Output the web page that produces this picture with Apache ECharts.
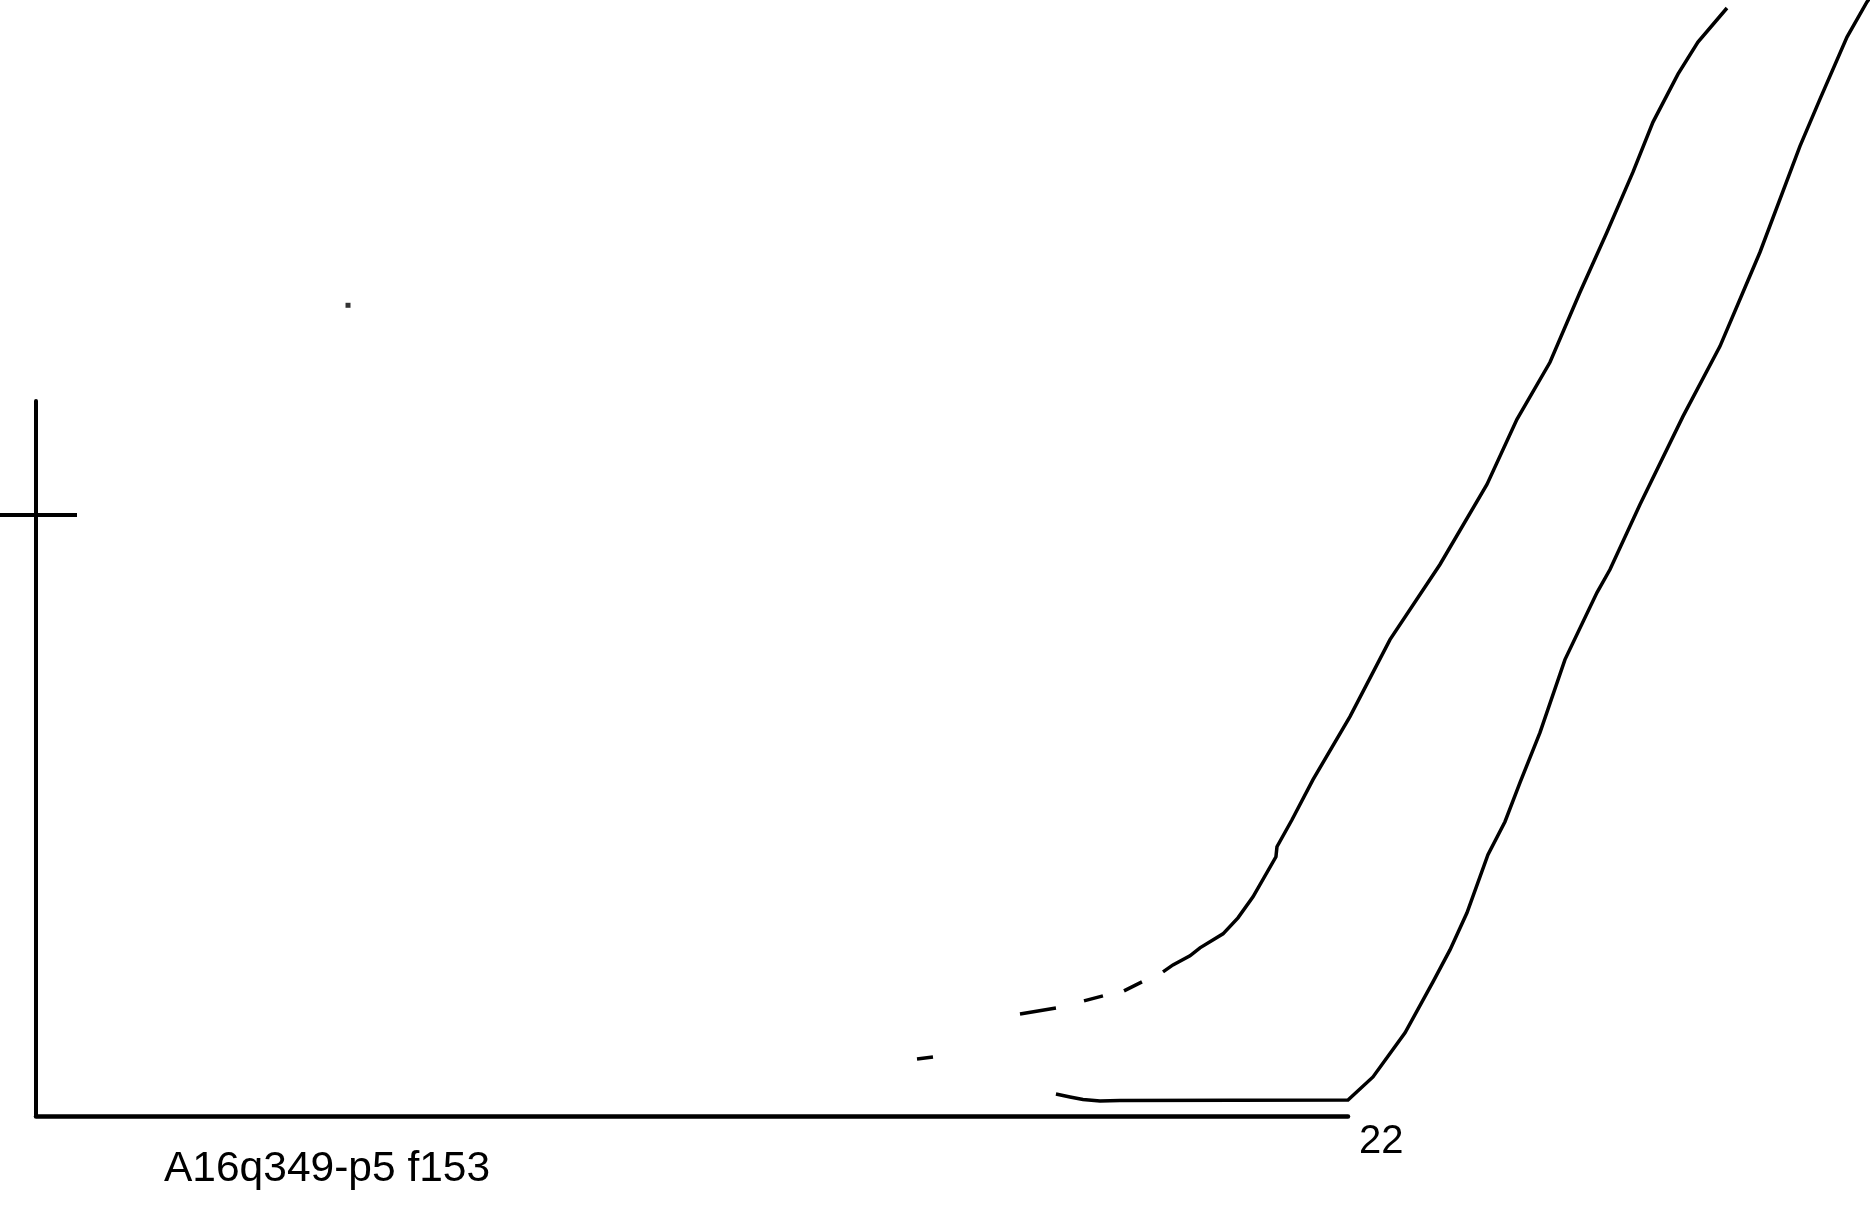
<!DOCTYPE html>
<html>
<head>
<meta charset="utf-8">
<script src="https://cdn.jsdelivr.net/npm/echarts@6/dist/echarts.min.js"></script>
<style>
html,body{margin:0;padding:0;background:#fff;}
#chart{width:1870px;height:1224px;}
</style>
</head>
<body>
<div id="chart"></div>
<script>
// ---- data ----
const chartLabel = 'A16q349-p5 f153';
const xTickLabels = [22];
const yTickValues = [1];

// curve 1 (segments separated by null)
const curve1X = [14.773, 15.041, null, 16.500, 17.103, null, 17.573, 17.891, null, 18.244, 18.545, null,
  18.898, 19.065, 19.350, 19.518, 19.904, 20.155, 20.407, 20.792, 20.809, 21.061, 21.413, 22.033,
  22.704, 23.542, 24.330, 24.833, 25.387, 25.890, 26.342, 26.778, 27.114, 27.533, 27.868, 28.355];
const curve1Y = [0.0950, 0.0983, null, 0.1699, 0.1799, null, 0.1916, 0.1999, null, 0.2082, 0.2232, null,
  0.2399, 0.2515, 0.2665, 0.2799, 0.3032, 0.3298, 0.3648, 0.4314, 0.4481, 0.4931, 0.5597, 0.6647,
  0.7929, 0.9179, 1.0511, 1.1594, 1.2544, 1.3710, 1.4709, 1.5709, 1.6542, 1.7341, 1.7874, 1.8441];

// curve 2
const curve2X = [17.103, 17.338, 17.556, 17.841, 18.176, 22.000, 22.419, 22.956, 23.425, 23.710, 23.995,
  24.347, 24.632, 24.884, 25.219, 25.638, 26.175, 26.393, 26.896, 27.617, 28.237, 28.623, 28.908,
  29.579, 29.914, 30.367, 30.702, 30.836];
const curve2Y = [0.0366, 0.0317, 0.0275, 0.0250, 0.0258, 0.0267, 0.0650, 0.1383, 0.2232, 0.2765, 0.3382,
  0.4348, 0.4898, 0.5547, 0.6380, 0.7596, 0.8712, 0.9095, 1.0178, 1.1644, 1.2810, 1.3710, 1.4376,
  1.6142, 1.6925, 1.7958, 1.8541, 1.8724];

// isolated point
const dotX = [5.232];
const dotY = [1.3493];

// visible axis ranges
const xMin = 0, xMax = 22;
const yMin = 0, yMax = 1.19;

// ---- layout ----
const W = 1870, H = 1224;
const gLeft = 36, gRight = 522, gTop = 401, gBottom = 108;
const plotW = W - gLeft - gRight, plotH = H - gTop - gBottom;
// an invisible, wider grid with identical scale so curves can run past the axis ends
const xMaxWide = xMax * (W - gLeft) / plotW;
const yMaxWide = yMax * (H - gBottom) / plotH;

function pairs(xs, ys) {
  return xs.map((x, i) => (x === null || ys[i] === null) ? ['-', '-'] : [x, ys[i]]);
}

const FONT = '"Liberation Sans", Arial, sans-serif';
const chart = echarts.init(document.getElementById('chart'), null, {renderer: 'canvas'});

const lineCommon = {
  type: 'line',
  xAxisIndex: 1,
  yAxisIndex: 2,
  showSymbol: false,
  symbol: 'none',
  connectNulls: false,
  smooth: false,
  silent: true,
  lineStyle: {color: '#000', width: 3.5, cap: 'butt', join: 'miter'}
};

const hiddenAxis = {
  type: 'value',
  show: false,
  splitLine: {show: false},
  axisLine: {show: false},
  axisTick: {show: false},
  axisLabel: {show: false}
};

chart.setOption({
  animation: false,
  backgroundColor: '#fff',
  title: {
    text: chartLabel,
    left: 164,
    top: 1149,
    padding: 0,
    textStyle: {fontFamily: FONT, fontSize: 42.5, fontWeight: 'normal', color: '#000', lineHeight: 40}
  },
  grid: [
    {left: gLeft, right: gRight, top: gTop, bottom: gBottom, containLabel: false},
    {left: gLeft, right: 0, top: 0, bottom: gBottom, containLabel: false}
  ],
  xAxis: [
    {
      type: 'value',
      gridIndex: 0,
      min: xMin,
      max: xMax,
      interval: 22,
      splitLine: {show: false},
      axisTick: {show: false},
      axisLine: {show: true, onZero: false, lineStyle: {color: '#000', width: 4.5}},
      axisLabel: {
        show: true,
        customValues: xTickLabels,
        showMinLabel: false,
        align: 'left',
        verticalAlign: 'top',
        margin: 6,
        padding: [0, 0, 0, 11],
        lineHeight: 40,
        fontFamily: FONT,
        fontSize: 40,
        color: '#000'
      }
    },
    Object.assign({}, hiddenAxis, {gridIndex: 1, min: xMin, max: xMaxWide})
  ],
  yAxis: [
    {
      type: 'value',
      gridIndex: 0,
      min: yMin,
      max: yMax,
      position: 'left',
      splitLine: {show: false},
      axisLine: {show: true, onZero: false, lineStyle: {color: '#000', width: 4}},
      axisTick: {show: true, inside: false, length: 36, customValues: yTickValues, lineStyle: {color: '#000', width: 4}},
      axisLabel: {show: false}
    },
    {
      type: 'value',
      gridIndex: 0,
      min: yMin,
      max: yMax,
      position: 'left',
      splitLine: {show: false},
      axisLine: {show: false, onZero: false},
      axisTick: {show: true, inside: true, length: 41, customValues: yTickValues, lineStyle: {color: '#000', width: 4}},
      axisLabel: {show: false}
    },
    Object.assign({}, hiddenAxis, {gridIndex: 1, min: yMin, max: yMaxWide})
  ],
  series: [
    Object.assign({}, lineCommon, {name: 'curve1', data: pairs(curve1X, curve1Y)}),
    Object.assign({}, lineCommon, {name: 'curve2', data: pairs(curve2X, curve2Y)}),
    {
      type: 'scatter',
      name: 'dot',
      xAxisIndex: 1,
      yAxisIndex: 2,
      symbol: 'rect',
      symbolSize: 5,
      silent: true,
      itemStyle: {color: '#000'},
      data: pairs(dotX, dotY)
    }
  ]
});
</script>
</body>
</html>
